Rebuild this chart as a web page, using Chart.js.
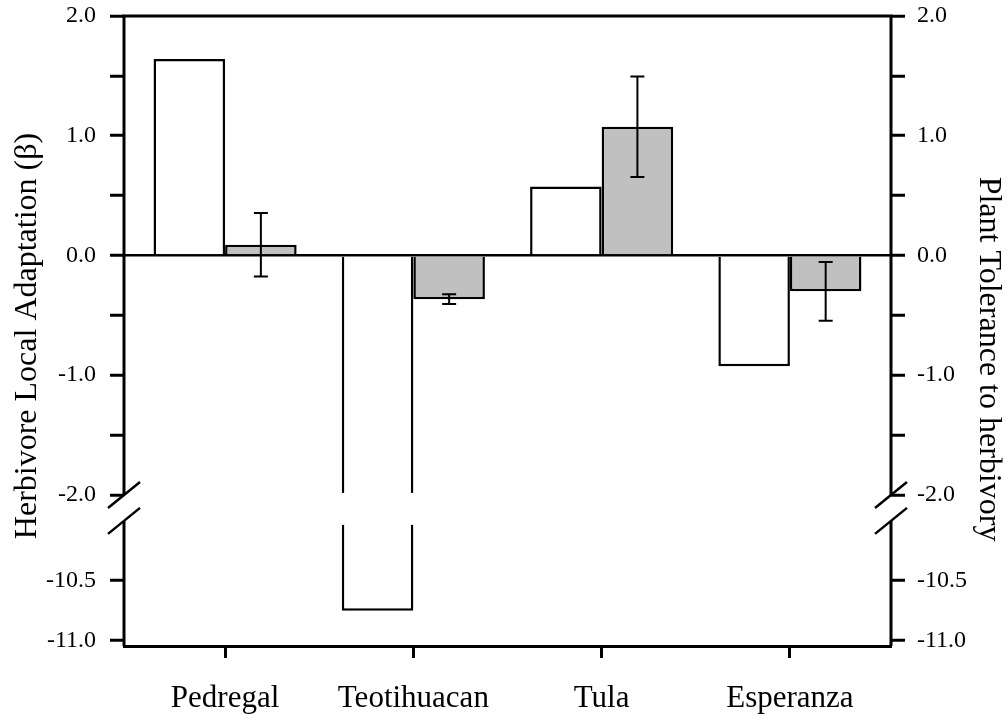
<!DOCTYPE html>
<html lang="en">
<head>
  <meta charset="UTF-8" />
  <title>Herbivore local adaptation and plant tolerance by site</title>
  <script src="https://cdn.jsdelivr.net/npm/chart.js"></script>
  <style>
    body { margin: 0; background: #fff; }
    .chart-container { position: relative; width: 1008px; height: 721px; }
  </style>
</head>
<body>

  <div class="chart-container">
    <canvas id="siteChart"></canvas>
  </div>

  <script>
    // Sites and the two measures per site
    const sites = ['Pedregal', 'Teotihuacan', 'Tula', 'Esperanza'];
    const adaptation = [1.64, -10.75, 0.575, -0.925];   // white bars (beta)
    const tolerance = [0.09, -0.365, 1.075, -0.30];     // grey bars
    const toleranceErr = [0.265, 0.04, 0.42, 0.245];    // +/- error

    const yTickValues = [2.0, 1.5, 1.0, 0.5, 0.0, -0.5, -1.0, -1.5, -2.0, -10.5, -11.0];
    const yTickLabels = ['2.0', '', '1.0', '', '0.0', '', '-1.0', '', '-2.0', '-10.5', '-11.0'];

    const leftTitle = 'Herbivore Local Adaptation (\u03B2)';
    const rightTitle = 'Plant Tolerance to herbivory';

    // Broken axis: values at or below -10 are moved up to sit just under -2
    const breakHigh = -2.0;
    const breakLow = -10.0;
    const breakGap = 0.217;
    function toAxis(v) {
      return v <= breakLow ? v - breakLow + breakHigh - breakGap : v;
    }

    const serif = '"Liberation Serif", "Times New Roman", serif';
    Chart.defaults.font.family = serif;
    Chart.defaults.color = '#000';

    const yMin = toAxis(-11.045);
    const yMax = 2.0;

    // Frame, axis break, error bars and the side titles
    const framePlugin = {
      id: 'frame',
      afterDatasetsDraw(chart) {
        const { ctx, chartArea: a, scales } = chart;
        const y = scales.y;
        const yHi = y.getPixelForValue(toAxis(breakHigh));
        const yLo = y.getPixelForValue(toAxis(breakLow));
        ctx.save();

        // open up any bar that runs through the break
        ctx.fillStyle = '#fff';
        chart.getDatasetMeta(0).data.forEach((bar, i) => {
          if (adaptation[i] < breakLow) {
            ctx.fillRect(bar.x - bar.width / 2 - 3, yHi - 2, bar.width + 6, yLo - yHi + 6);
          }
        });

        // error bars on the tolerance series
        ctx.strokeStyle = '#000';
        ctx.lineWidth = 2;
        ctx.beginPath();
        chart.getDatasetMeta(1).data.forEach((bar, i) => {
          const top = y.getPixelForValue(toAxis(tolerance[i] + toleranceErr[i]));
          const bot = y.getPixelForValue(toAxis(tolerance[i] - toleranceErr[i]));
          ctx.moveTo(bar.x, top); ctx.lineTo(bar.x, bot);
          ctx.moveTo(bar.x - 7, top); ctx.lineTo(bar.x + 7, top);
          ctx.moveTo(bar.x - 7, bot); ctx.lineTo(bar.x + 7, bot);
        });
        ctx.stroke();

        // top line and the two broken side axes
        ctx.lineWidth = 3;
        ctx.beginPath();
        ctx.moveTo(a.left - 1.5, a.top);
        ctx.lineTo(a.right + 1.5, a.top);
        [a.left, a.right].forEach(x => {
          ctx.moveTo(x, a.top); ctx.lineTo(x, yHi);
          ctx.moveTo(x, yLo); ctx.lineTo(x, a.bottom);
        });
        ctx.stroke();

        // break slashes
        ctx.lineWidth = 2.5;
        ctx.beginPath();
        [a.left, a.right].forEach(x => {
          [yHi, yLo].forEach(yy => {
            ctx.moveTo(x - 16, yy + 13);
            ctx.lineTo(x + 16, yy - 13);
          });
        });
        ctx.stroke();

        // axis titles
        ctx.fillStyle = '#000';
        ctx.font = '32px ' + serif;
        ctx.textAlign = 'center';
        ctx.textBaseline = 'middle';
        const mid = (a.top + a.bottom) / 2;
        ctx.save();
        ctx.translate(a.left - 96, mid + 5);
        ctx.rotate(-Math.PI / 2);
        ctx.fillText(leftTitle, 0, 0);
        ctx.restore();
        ctx.save();
        ctx.translate(a.right + 97, mid + 28);
        ctx.rotate(Math.PI / 2);
        ctx.fillText(rightTitle, 0, 0);
        ctx.restore();

        ctx.restore();
      }
    };

    function yScale(position, width, padding) {
      return {
        position: position,
        min: yMin,
        max: yMax,
        afterBuildTicks: s => { s.ticks = yTickValues.map(v => ({ value: toAxis(v) })); },
        afterFit: s => {
          s.width = width;
          s.paddingTop = 0;
          s.paddingBottom = 0;
        },
        border: { display: false },
        grid: {
          drawOnChartArea: position === 'left',
          color: c => (c.tick && c.tick.value === 0 ? '#000' : 'rgba(0,0,0,0)'),
          lineWidth: 2.5,
          tickColor: '#000',
          tickWidth: 3,
          tickLength: 14
        },
        ticks: {
          autoSkip: false,
          padding: padding,
          color: '#000',
          font: { size: 24 },
          callback: (v, i) => yTickLabels[i]
        }
      };
    }

    const ctx = document.getElementById('siteChart').getContext('2d');

    new Chart(ctx, {
      type: 'bar',
      data: {
        datasets: [
          {
            label: 'Herbivore local adaptation',
            data: sites.map((s, i) => ({ x: i, y: toAxis(adaptation[i]) })),
            backgroundColor: '#ffffff',
            borderColor: '#000',
            borderWidth: 2.5,
            categoryPercentage: 0.76,
            barPercentage: 1.0
          },
          {
            label: 'Plant tolerance',
            data: sites.map((s, i) => ({ x: i, y: toAxis(tolerance[i]) })),
            backgroundColor: '#c0c0c0',
            borderColor: '#000',
            borderWidth: 2.5,
            categoryPercentage: 0.76,
            barPercentage: 1.0
          }
        ]
      },
      options: {
        responsive: true,
        maintainAspectRatio: false,
        animation: false,
        layout: { padding: { top: 16, left: 0, right: 0, bottom: 0 } },
        plugins: {
          legend: { display: false },
          tooltip: { enabled: false }
        },
        scales: {
          x: {
            type: 'linear',
            offset: false,
            min: -0.537,
            max: 3.537,
            afterBuildTicks: s => { s.ticks = sites.map((n, i) => ({ value: i })); },
            afterFit: s => { s.height = 75; },
            border: { color: '#000', width: 3 },
            grid: {
              offset: false,
              drawOnChartArea: false,
              tickColor: '#000',
              tickWidth: 3,
              tickLength: 12
            },
            ticks: {
              autoSkip: false,
              maxRotation: 0,
              padding: 22,
              color: '#000',
              font: { size: 31 },
              callback: (v, i) => sites[i]
            }
          },
          y: yScale('left', 124, 14),
          y2: yScale('right', 117, 12)
        }
      },
      plugins: [framePlugin]
    });
  </script>

</body>
</html>
